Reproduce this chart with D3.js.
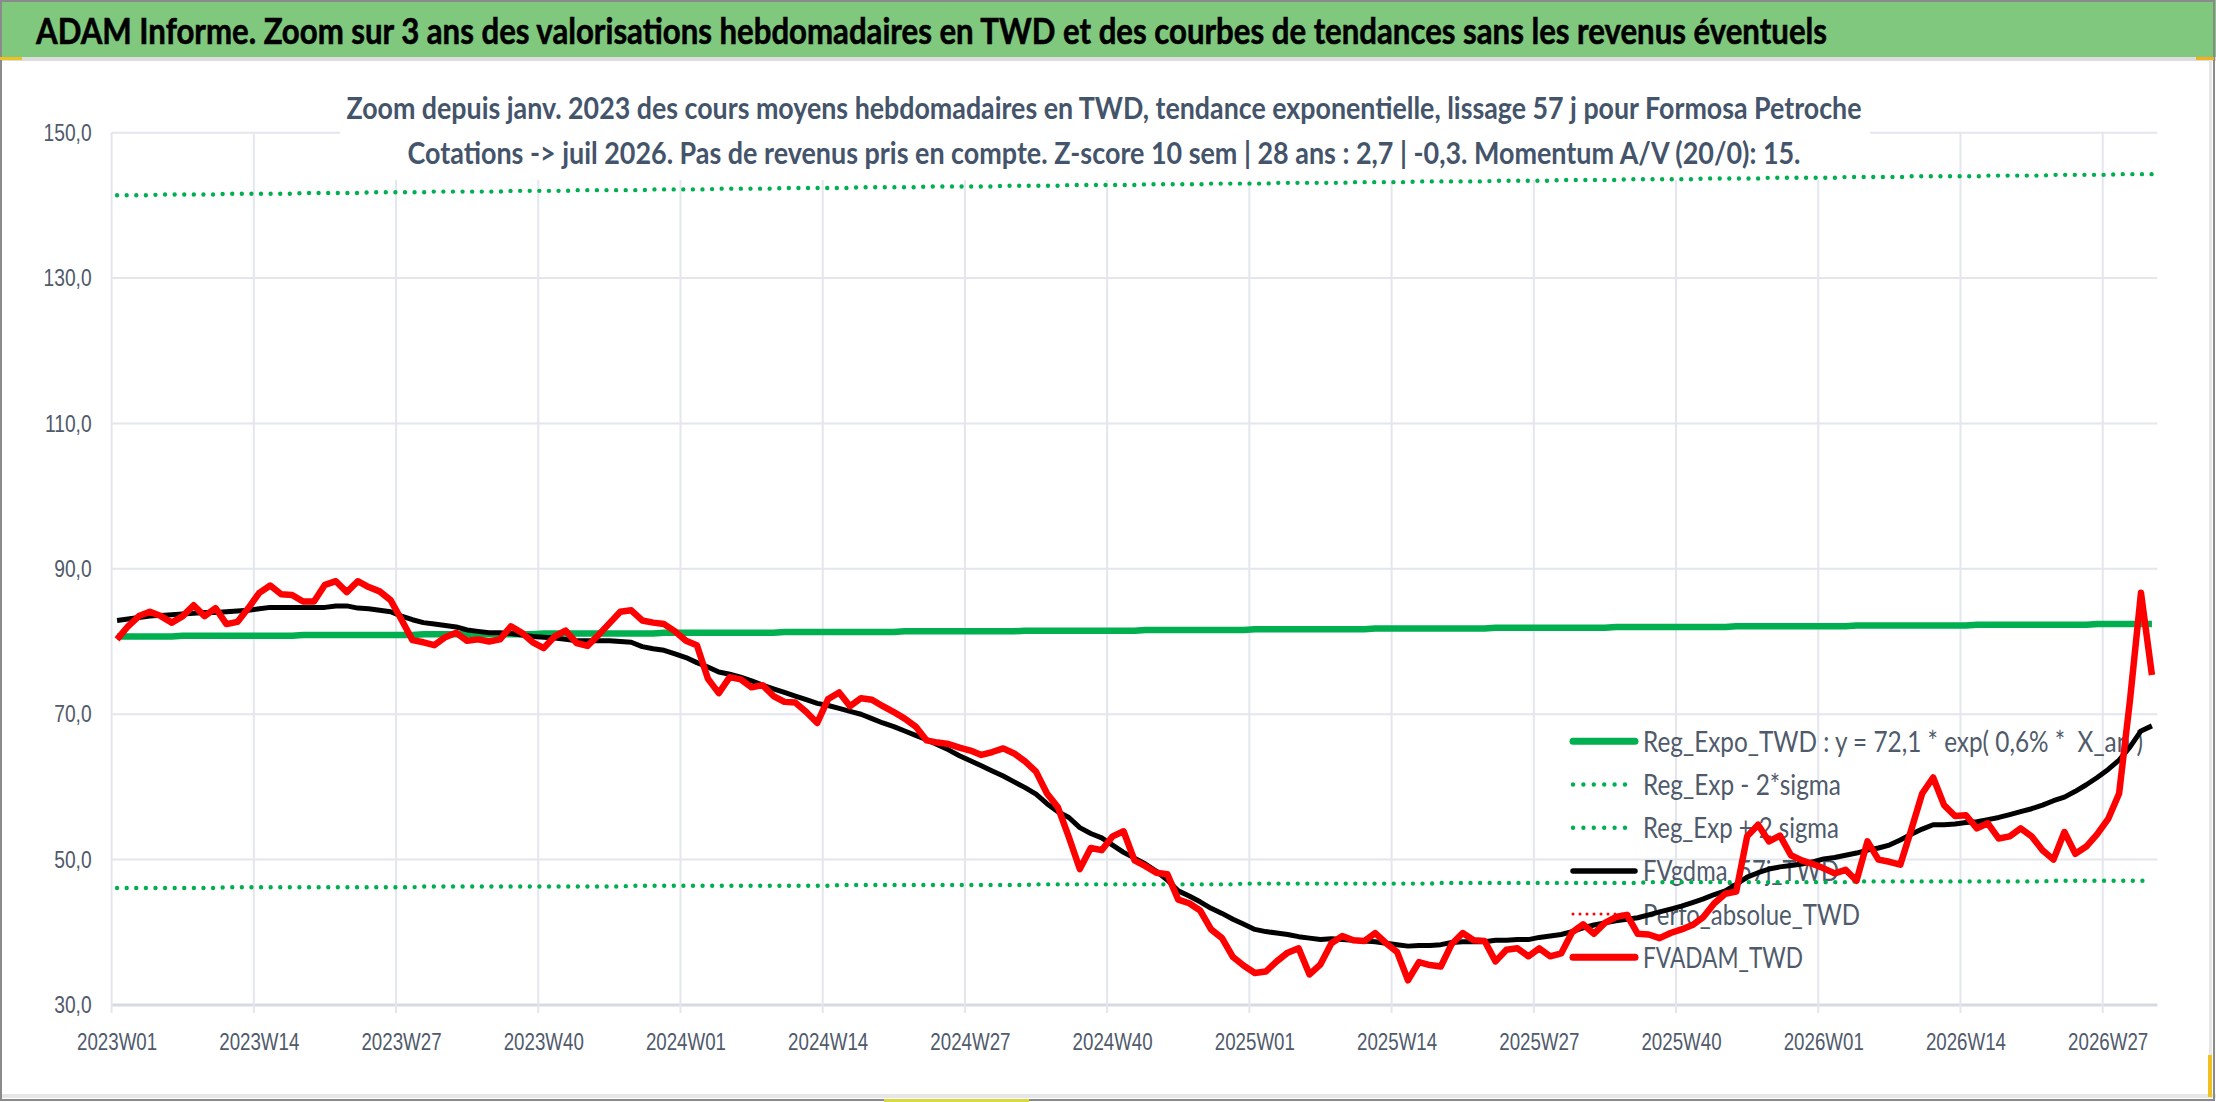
<!DOCTYPE html>
<html>
<head>
<meta charset="utf-8">
<script src="https://cdn.jsdelivr.net/npm/d3@7"></script>
<style>
    html, body { margin: 0; padding: 0; background: #fff; }
    svg { display: block; font-family: Lato, "Open Sans", sans-serif; }
</style>
</head>
<body>
<svg id="chart" width="2216" height="1102"></svg>
<script>
/* Data (weekly points, 2023W01 -> 2026W31) */

// Categories: ISO weeks per year shown on the axis
const years = [2023, 2024, 2025, 2026];
const weeksPerYear = [52, 52, 52, 31];

// Labels printed under the x axis (every 13 weeks)
const tickLabels = ['2023W01', '2023W14', '2023W27', '2023W40', '2024W01', '2024W14', '2024W27',
    '2024W40', '2025W01', '2025W14', '2025W27', '2025W40', '2026W01', '2026W14', '2026W27'];

// Y axis ticks
const yTicks = [30, 50, 70, 90, 110, 130, 150];

// FVADAM_TWD : weekly average price (red)
const fvadam = [
    80.3, 82.1, 83.5, 84.1, 83.5, 82.6, 83.5, 85.0, 83.5, 84.6,
    82.4, 82.7, 84.6, 86.7, 87.7, 86.5, 86.4, 85.5, 85.5, 87.8,
    88.3, 86.8, 88.3, 87.5, 86.9, 85.7, 83.0, 80.2, 79.9, 79.5,
    80.6, 81.2, 80.1, 80.3, 80.0, 80.3, 82.1, 81.2, 79.9, 79.1,
    80.7, 81.5, 79.8, 79.4, 80.9, 82.5, 84.1, 84.3, 82.9, 82.6,
    82.4, 81.4, 80.1, 79.5, 74.9, 72.9, 75.1, 74.8, 73.7, 74.0,
    72.5, 71.7, 71.6, 70.3, 68.8, 72.1, 73.0, 71.1, 72.2, 72.0,
    71.1, 70.3, 69.4, 68.3, 66.4, 66.1, 65.9, 65.4, 65.0, 64.4,
    64.8, 65.3, 64.6, 63.5, 62.1, 59.1, 57.2, 53.1, 48.7, 51.6,
    51.3, 53.2, 53.9, 49.9, 49.1, 48.2, 48.0, 44.5, 44.0, 43.0,
    40.4, 39.2, 36.6, 35.4, 34.4, 34.6, 36.0, 37.2, 37.8, 34.2,
    35.6, 38.5, 39.5, 38.9, 38.8, 39.9, 38.5, 37.3, 33.4, 35.9,
    35.5, 35.3, 38.4, 39.9, 38.9, 38.8, 36.0, 37.6, 37.8, 36.7,
    37.8, 36.7, 37.1, 40.0, 41.1, 39.8, 41.3, 42.1, 42.4, 39.8,
    39.7, 39.2, 39.9, 40.4, 41.0, 42.1, 44.0, 45.3, 45.6, 53.2,
    54.8, 52.5, 53.3, 50.6, 49.9, 49.4, 48.8, 48.1, 48.6, 47.1,
    52.5, 50.0, 49.7, 49.3, 54.1, 59.1, 61.3, 57.5, 56.0, 56.1,
    54.3, 55.0, 52.9, 53.2, 54.3, 53.2, 51.3, 50.0, 53.8, 50.8,
    51.8, 53.5, 55.6, 59.1, 72.0, 86.7, 75.4
];

// FVgdma_57j_TWD : smoothed curve (black)
const fvgdma = [
    82.9, 83.1, 83.3, 83.5, 83.6, 83.7, 83.8, 83.9, 84.0, 84.0,
    84.1, 84.2, 84.3, 84.5, 84.7, 84.7, 84.7, 84.7, 84.7, 84.7,
    84.9, 84.9, 84.6, 84.5, 84.3, 84.1, 83.5, 83.0, 82.6, 82.4,
    82.2, 82.0, 81.6, 81.4, 81.2, 81.2, 81.1, 80.9, 80.7, 80.6,
    80.5, 80.3, 80.1, 80.1, 80.1, 80.1, 80.0, 79.9, 79.3, 79.0,
    78.8, 78.3, 77.8, 77.1, 76.5, 75.8, 75.5, 75.1, 74.6, 74.0,
    73.5, 73.0, 72.5, 72.0, 71.5, 71.2, 70.8, 70.4, 70.0, 69.4,
    68.8, 68.3, 67.7, 67.1, 66.5, 65.8, 65.1, 64.3, 63.6, 62.9,
    62.2, 61.5, 60.7, 59.9, 59.0, 57.7, 56.6, 55.8, 54.4, 53.6,
    53.0, 52.0, 51.0, 50.2, 49.4, 48.4, 47.2, 45.7, 45.0, 44.2,
    43.3, 42.6, 41.8, 41.1, 40.4, 40.1, 39.9, 39.7, 39.4, 39.2,
    39.0, 39.1, 39.0, 38.9, 38.8, 38.7, 38.5, 38.3, 38.1, 38.2,
    38.2, 38.3, 38.6, 38.7, 38.7, 38.7, 38.9, 38.9, 39.0, 39.0,
    39.3, 39.5, 39.7, 40.1, 40.6, 41.0, 41.3, 41.6, 41.8, 42.0,
    42.4, 42.8, 43.2, 43.6, 44.1, 44.6, 45.2, 45.7, 46.6, 47.6,
    48.2, 48.7, 49.0, 49.2, 49.4, 49.7, 50.1, 50.3, 50.6, 50.9,
    51.3, 51.6, 52.0, 52.7, 53.5, 54.2, 54.8, 54.8, 54.9, 55.1,
    55.2, 55.5, 55.8, 56.2, 56.6, 57.0, 57.5, 58.1, 58.6, 59.4,
    60.3, 61.3, 62.4, 63.7, 65.5, 67.7, 68.4
];

// Reg_Expo_TWD : exponential trend (thick green), as drawn
const regExpo = [
    80.7, 80.7, 80.7, 80.7, 80.7, 80.7,
    80.8, 80.8, 80.8, 80.8, 80.8, 80.8, 80.8, 80.8, 80.8, 80.8, 80.8,
    80.9, 80.9, 80.9, 80.9, 80.9, 80.9, 80.9, 80.9, 80.9, 80.9, 80.9,
    81.0, 81.0, 81.0, 81.0, 81.0, 81.0, 81.0, 81.0, 81.0, 81.0, 81.0,
    81.1, 81.1, 81.1, 81.1, 81.1, 81.1, 81.1, 81.1, 81.1, 81.1, 81.1,
    81.2, 81.2, 81.2, 81.2, 81.2, 81.2, 81.2, 81.2, 81.2, 81.2, 81.2,
    81.3, 81.3, 81.3, 81.3, 81.3, 81.3, 81.3, 81.3, 81.3, 81.3, 81.3,
    81.4, 81.4, 81.4, 81.4, 81.4, 81.4, 81.4, 81.4, 81.4, 81.4, 81.4,
    81.5, 81.5, 81.5, 81.5, 81.5, 81.5, 81.5, 81.5, 81.5, 81.5, 81.5,
    81.6, 81.6, 81.6, 81.6, 81.6, 81.6, 81.6, 81.6, 81.6, 81.6,
    81.7, 81.7, 81.7, 81.7, 81.7, 81.7, 81.7, 81.7, 81.7, 81.7, 81.7,
    81.8, 81.8, 81.8, 81.8, 81.8, 81.8, 81.8, 81.8, 81.8, 81.8, 81.8,
    81.9, 81.9, 81.9, 81.9, 81.9, 81.9, 81.9, 81.9, 81.9, 81.9, 81.9,
    82.0, 82.0, 82.0, 82.0, 82.0, 82.0, 82.0, 82.0, 82.0, 82.0, 82.0,
    82.1, 82.1, 82.1, 82.1, 82.1, 82.1, 82.1, 82.1, 82.1, 82.1, 82.1,
    82.2, 82.2, 82.2, 82.2, 82.2, 82.2, 82.2, 82.2, 82.2, 82.2, 82.2,
    82.3, 82.3, 82.3, 82.3, 82.3, 82.3, 82.3, 82.3, 82.3, 82.3, 82.3,
    82.4, 82.4, 82.4, 82.4, 82.4, 82.4
];

// Reg_Exp - 2*sigma (green dots, low band)
const regLow = [
    46.1, 46.1, 46.1, 46.1, 46.1, 46.1, 46.1, 46.1, 46.1, 46.1,
    46.2, 46.2, 46.2, 46.2, 46.2, 46.2, 46.2, 46.2, 46.2, 46.2, 46.2, 46.2, 46.2, 46.2, 46.2, 46.2, 46.2, 46.2,
    46.3, 46.3, 46.3, 46.3, 46.3, 46.3, 46.3, 46.3, 46.3, 46.3, 46.3, 46.3, 46.3, 46.3, 46.3, 46.3, 46.3, 46.3, 46.3,
    46.4, 46.4, 46.4, 46.4, 46.4, 46.4, 46.4, 46.4, 46.4, 46.4, 46.4, 46.4, 46.4, 46.4, 46.4, 46.4, 46.4, 46.4, 46.4,
    46.5, 46.5, 46.5, 46.5, 46.5, 46.5, 46.5, 46.5, 46.5, 46.5, 46.5, 46.5, 46.5, 46.5, 46.5, 46.5, 46.5, 46.5,
    46.6, 46.6, 46.6, 46.6, 46.6, 46.6, 46.6, 46.6, 46.6, 46.6, 46.6, 46.6, 46.6, 46.6, 46.6, 46.6, 46.6, 46.6, 46.6,
    46.7, 46.7, 46.7, 46.7, 46.7, 46.7, 46.7, 46.7, 46.7, 46.7, 46.7, 46.7, 46.7, 46.7, 46.7, 46.7, 46.7, 46.7,
    46.8, 46.8, 46.8, 46.8, 46.8, 46.8, 46.8, 46.8, 46.8, 46.8, 46.8, 46.8, 46.8, 46.8, 46.8, 46.8, 46.8, 46.8, 46.8,
    46.9, 46.9, 46.9, 46.9, 46.9, 46.9, 46.9, 46.9, 46.9, 46.9, 46.9, 46.9, 46.9, 46.9, 46.9, 46.9, 46.9, 46.9, 46.9,
    47.0, 47.0, 47.0, 47.0, 47.0, 47.0, 47.0, 47.0, 47.0, 47.0, 47.0, 47.0, 47.0, 47.0, 47.0, 47.0, 47.0, 47.0,
    47.1, 47.1, 47.1, 47.1, 47.1, 47.1, 47.1, 47.1, 47.1, 47.1
];

// Reg_Exp + 2 sigma (green dots, high band)
const regHigh = [
    141.4, 141.4, 141.4, 141.4,
    141.5, 141.5, 141.5, 141.5, 141.5, 141.5,
    141.6, 141.6, 141.6, 141.6, 141.6, 141.6, 141.6,
    141.7, 141.7, 141.7, 141.7, 141.7, 141.7,
    141.8, 141.8, 141.8, 141.8, 141.8, 141.8,
    141.9, 141.9, 141.9, 141.9, 141.9, 141.9, 141.9,
    142.0, 142.0, 142.0, 142.0, 142.0, 142.0,
    142.1, 142.1, 142.1, 142.1, 142.1, 142.1, 142.1,
    142.2, 142.2, 142.2, 142.2, 142.2, 142.2,
    142.3, 142.3, 142.3, 142.3, 142.3, 142.3,
    142.4, 142.4, 142.4, 142.4, 142.4, 142.4, 142.4,
    142.5, 142.5, 142.5, 142.5, 142.5, 142.5,
    142.6, 142.6, 142.6, 142.6, 142.6, 142.6, 142.6,
    142.7, 142.7, 142.7, 142.7, 142.7, 142.7,
    142.8, 142.8, 142.8, 142.8, 142.8, 142.8, 142.8,
    142.9, 142.9, 142.9, 142.9, 142.9, 142.9,
    143.0, 143.0, 143.0, 143.0, 143.0, 143.0,
    143.1, 143.1, 143.1, 143.1, 143.1, 143.1, 143.1,
    143.2, 143.2, 143.2, 143.2, 143.2, 143.2,
    143.3, 143.3, 143.3, 143.3, 143.3, 143.3, 143.3,
    143.4, 143.4, 143.4, 143.4, 143.4, 143.4,
    143.5, 143.5, 143.5, 143.5, 143.5, 143.5,
    143.6, 143.6, 143.6, 143.6, 143.6, 143.6, 143.6,
    143.7, 143.7, 143.7, 143.7, 143.7, 143.7,
    143.8, 143.8, 143.8, 143.8, 143.8, 143.8, 143.8,
    143.9, 143.9, 143.9, 143.9, 143.9, 143.9,
    144.0, 144.0, 144.0, 144.0, 144.0, 144.0, 144.0,
    144.1, 144.1, 144.1, 144.1, 144.1, 144.1,
    144.2, 144.2, 144.2, 144.2, 144.2, 144.2,
    144.3, 144.3, 144.3, 144.3
];

// Perfo_absolue_TWD : listed in the legend, no visible points
const perfoAbs = [];

// Texts
const mainTitle = 'ADAM Informe. Zoom sur 3 ans des valorisations hebdomadaires en TWD et des courbes de tendances sans les revenus éventuels';
const subTitle = [
    'Zoom depuis janv. 2023 des cours moyens hebdomadaires en TWD, tendance exponentielle, lissage 57 j pour Formosa Petroche',
    'Cotations -> juil 2026. Pas de revenus pris en compte. Z-score 10 sem | 28 ans : 2,7 | -0,3. Momentum A/V (20/0): 15.'
];
const legendLabels = ['Reg_Expo_TWD : y = 72,1 * exp( 0,6% *  X_an )', 'Reg_Exp - 2*sigma',
    'Reg_Exp + 2 sigma', 'FVgdma_57j_TWD', 'Perfo_absolue_TWD', 'FVADAM_TWD'];

/* Build the week categories */
var weeks = [];
years.forEach(function(yr, k) {
    for (var w = 1; w <= weeksPerYear[k]; w++) {
        weeks.push(yr + 'W' + (w < 10 ? '0' + w : w));
    }
});
[fvadam, fvgdma, regExpo, regLow, regHigh].forEach(function(s, k) {
    if (s.length != weeks.length) throw new Error('series ' + k + ' has ' + s.length + ' points');
});

/* Shrink a text selection horizontally (the reference uses a narrow font) */
function squeeze(sel, k) {
    sel.each(function() {
        var w = this.getComputedTextLength();
        d3.select(this).attr('textLength', w * k).attr('lengthAdjust', 'spacingAndGlyphs');
    });
}

var svg = d3.select('#chart');
var textColor = '#4f5a6b';

// Plot frame
var plot = { left: 111.6, right: 2157.4, top: 132.7, bottom: 1005 };

var x = d3.scaleBand().domain(weeks).range([plot.left, plot.right]).padding(0);
var y = d3.scaleLinear().domain([30, 150]).range([plot.bottom, plot.top]);
var cx = function(w) { return x(w) + x.bandwidth() / 2; };

var frFormat = d3.formatLocale({ decimal: ',', thousands: ' ', grouping: [3], currency: ['', ' €'] }).format('.1f');

// Header bar
svg.append('rect').attr('x', 0).attr('y', 0).attr('width', 2216).attr('height', 58).attr('fill', '#80c87e');
svg.append('rect').attr('x', 0).attr('y', 57).attr('width', 2216).attr('height', 4).attr('fill', '#dcdcdc');
svg.append('text')
    .attr('x', 36).attr('y', 44)
    .attr('textLength', 1791).attr('lengthAdjust', 'spacingAndGlyphs')
    .style('font-size', '37px').style('font-weight', 'bold').attr('fill', '#000')
    .attr('stroke', '#000').attr('stroke-width', 0.6)
    .text(mainTitle);

// Horizontal gridlines
svg.append('g').selectAll('line')
    .data(yTicks).enter().append('line')
    .attr('x1', plot.left).attr('x2', plot.right)
    .attr('y1', function(d) { return y(d); }).attr('y2', function(d) { return y(d); })
    .attr('stroke', function(d) { return d == 30 ? '#d6dae2' : '#e3e6ec'; })
    .attr('stroke-width', function(d) { return d == 30 ? 3 : 2; });

// Vertical gridlines, at the start of every labelled week, running into the tick mark
svg.append('g').selectAll('line')
    .data(tickLabels).enter().append('line')
    .attr('x1', function(d) { return x(d); }).attr('x2', function(d) { return x(d); })
    .attr('y1', plot.top).attr('y2', plot.bottom + 8)
    .attr('stroke', '#e3e6ec').attr('stroke-width', 2);

// Subtitle box (white, hides the gridlines behind it)
svg.append('rect').attr('x', 340).attr('y', 78).attr('width', 1530).attr('height', 102).attr('fill', '#fff');
svg.append('g').selectAll('text')
    .data(subTitle).enter().append('text')
    .attr('x', 1104).attr('y', function(d, i) { return 119 + i * 45; })
    .attr('text-anchor', 'middle')
    .attr('textLength', function(d, i) { return i == 0 ? 1515 : 1393; })
    .attr('lengthAdjust', 'spacingAndGlyphs')
    .style('font-size', '31px').style('font-weight', 'bold').attr('fill', '#44546a')
    .text(function(d) { return d; });

// Y axis labels
var yAxis = svg.append('g')
    .attr('transform', 'translate(' + plot.left + ',0)')
    .call(d3.axisLeft(y).tickValues(yTicks).tickFormat(frFormat).tickSize(0).tickPadding(20));
yAxis.select('.domain').remove();
yAxis.selectAll('text').style('font-size', '24px').attr('fill', textColor).attr('font-family', null);
squeeze(yAxis.selectAll('text'), 0.8);

// X axis labels, centred on their week
var xAxis = svg.append('g')
    .attr('transform', 'translate(0,' + plot.bottom + ')')
    .call(d3.axisBottom(x).tickValues(tickLabels).tickSize(0).tickPadding(28));
xAxis.select('.domain').remove();
xAxis.selectAll('text').style('font-size', '24px').attr('fill', textColor).attr('font-family', null);
squeeze(xAxis.selectAll('text'), 0.78);

// Series definitions (style only; textWidth = width of the legend label)
var series = [
    { label: legendLabels[0], values: regExpo, color: '#00b050', width: 6.5, dash: null, textWidth: 500 },
    { label: legendLabels[1], values: regLow, color: '#00b050', width: 4.4, dash: '0 9.6', textWidth: 198 },
    { label: legendLabels[2], values: regHigh, color: '#00b050', width: 4.4, dash: '0 9.6', textWidth: 196 },
    { label: legendLabels[3], values: fvgdma, color: '#000000', width: 5, dash: null, textWidth: 196 },
    { label: legendLabels[4], values: perfoAbs, color: '#ff0000', width: 3, dash: '0 7', textWidth: 217 },
    { label: legendLabels[5], values: fvadam, color: '#ff0000', width: 6.5, dash: null, textWidth: 160 }
];

// Legend (drawn under the curves, as in the reference)
var legend = svg.append('g').attr('transform', 'translate(1573,741.3)');
var item = legend.selectAll('g').data(series).enter().append('g')
    .attr('transform', function(d, i) { return 'translate(0,' + (i * 43.2) + ')'; });
item.append('line')
    .attr('x1', 0).attr('x2', 62).attr('y1', 0).attr('y2', 0)
    .attr('stroke', function(d) { return d.color; })
    .attr('stroke-width', function(d) { return d.dash ? d.width : d.width + 0.5; })
    .attr('stroke-dasharray', function(d) { return d.dash ? (d.width < 4 ? '0 7' : '0 10.4') : null; })
    .attr('stroke-linecap', 'round');
item.append('text')
    .attr('x', 70).attr('y', 10.4)
    .style('font-size', '28px').style('white-space', 'pre').attr('xml:space', 'preserve')
    .attr('fill', textColor)
    .attr('textLength', function(d) { return d.textWidth; })
    .attr('lengthAdjust', 'spacingAndGlyphs')
    .text(function(d) { return d.label; });

// Curves
var line = d3.line()
    .x(function(d, i) { return cx(weeks[i]); })
    .y(function(d) { return y(d); });

svg.append('g').selectAll('path')
    .data(series.filter(function(s) { return s.values.length; }))
    .enter().append('path')
    .attr('d', function(d) { return line(d.values); })
    .attr('fill', 'none')
    .attr('stroke', function(d) { return d.color; })
    .attr('stroke-width', function(d) { return d.width; })
    .attr('stroke-dasharray', function(d) { return d.dash; })
    .attr('stroke-linecap', function(d) { return d.dash ? 'round' : 'butt'; })
    .attr('stroke-linejoin', 'round');

// Outer frame and the small selection marks of the original screenshot
svg.append('rect').attr('x', 0).attr('y', 1094).attr('width', 2216).attr('height', 4).attr('fill', '#e6e6e6');
svg.append('rect').attr('x', 2209).attr('y', 58).attr('width', 3).attr('height', 1040).attr('fill', '#e6e6e6');
svg.append('rect').attr('x', 1).attr('y', 1).attr('width', 2213).attr('height', 1099)
    .attr('fill', 'none').attr('stroke', '#8a8a8a').attr('stroke-width', 2);
svg.append('rect').attr('x', 0).attr('y', 57).attr('width', 22).attr('height', 3).attr('fill', '#f0c020');
svg.append('rect').attr('x', 2196).attr('y', 57).attr('width', 18).attr('height', 3).attr('fill', '#f0b020');
svg.append('rect').attr('x', 2208).attr('y', 1055).attr('width', 4).attr('height', 42).attr('fill', '#f0c020');
svg.append('rect').attr('x', 884).attr('y', 1099).attr('width', 145).attr('height', 3).attr('fill', '#d8d840');
</script>
</body>
</html>
